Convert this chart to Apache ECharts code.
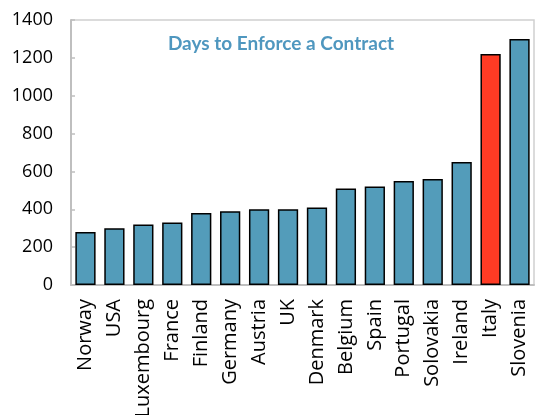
<!DOCTYPE html>
<html><head><meta charset="utf-8">
<script src="https://cdn.jsdelivr.net/npm/echarts@6/dist/echarts.min.js"></script>
<style>html,body{margin:0;padding:0;background:#fff}#c{width:537px;height:415px}</style>
</head><body><div id="c"></div>
<script>
var categories = ["Norway","USA","Luxembourg","France","Finland","Germany","Austria","UK","Denmark","Belgium","Spain","Portugal","Solovakia","Ireland","Italy","Slovenia"];
var days = [280,300,320,330,380,390,400,400,410,510,520,550,560,650,1220,1300];
var highlight = "Italy";
var yTicks = [0,200,400,600,800,1000,1200,1400];

var chart = echarts.init(document.getElementById('c'), null, {renderer:'canvas'});
chart.setOption({
  animation:false,
  title:{text:'Days to Enforce a Contract', left:276, top:29, textAlign:'center',
    textStyle:{fontFamily:'Lato', fontWeight:'bold', fontSize:19, color:'#4f97bf'}},
  grid:{left:71, right:3, top:20, bottom:130, containLabel:false, outerBoundsMode:'none'},
  xAxis:{type:'category', data:categories,
    axisLine:{lineStyle:{color:'#bfbfbf', width:2}},
    axisTick:{inside:true, length:4, lineStyle:{color:'#bfbfbf', width:1.5}},
    axisLabel:{rotate:90, interval:0, margin:14, fontFamily:"'Open Sans'", fontSize:20, color:'#000'}},
  yAxis:{type:'value', min:yTicks[0], max:yTicks[yTicks.length-1], interval:200,
    axisLine:{show:true, lineStyle:{color:'#bfbfbf', width:2}},
    axisTick:{show:true, inside:true, length:4, lineStyle:{color:'#bfbfbf', width:1.5}},
    splitLine:{show:false},
    axisLabel:{margin:18, fontFamily:"'Open Sans'", fontSize:18, color:'#000', formatter:function(v){return String(v);}}},
  series:[{type:'bar', barWidth:'70%',
    data:days.map(function(v,i){return {value:v, itemStyle:{color: categories[i]===highlight ? '#ff3b24' : '#539cba'}};}),
    itemStyle:{borderColor:'#000', borderWidth:1.5}}],
  graphic:[{type:'polyline', shape:{points:[[71,20],[534,20],[534,285]]}, style:{stroke:'#d0d0d0', lineWidth:1.5, fill:null}}]
});
</script></body></html>
